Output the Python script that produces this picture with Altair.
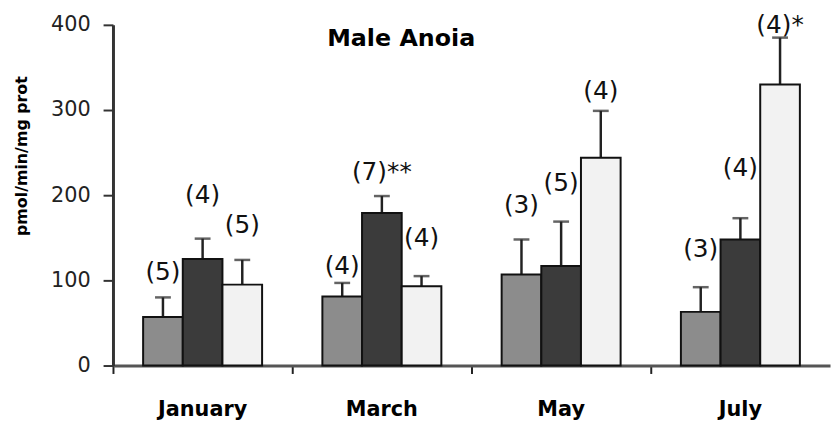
import altair as alt
import pandas as pd

months = ["January", "March", "May", "July"]
series = ["gray", "dark", "light"]

gray_mean = [57, 81, 107, 63]
dark_mean = [125, 179, 117, 148]
light_mean = [95, 93, 244, 330]

gray_se = [23, 16, 41, 29]
dark_se = [24, 20, 52, 25]
light_se = [29, 12, 55, 55]

gray_n = ["(5)", "(4)", "(3)", "(3)"]
dark_n = ["(4)", "(7)**", "(5)", "(4)"]
light_n = ["(5)", "(4)", "(4)", "(4)*"]

title_text = ["Male Anoia"]

# label gaps above error-bar tops (pixels) - styling
gray_gap = [26, 17, 35, 38]
dark_gap = [44, 24, 39, 51]
light_gap = [35, 38, 20, 13]

PLOT_H = 344
YMAX = 400
px2val = YMAX / PLOT_H

rows = []
for s, means, ses, ns, gaps in [
    ("gray", gray_mean, gray_se, gray_n, gray_gap),
    ("dark", dark_mean, dark_se, dark_n, dark_gap),
    ("light", light_mean, light_se, light_n, light_gap),
]:
    for m, v, e, n, g in zip(months, means, ses, ns, gaps):
        top = v + e
        rows.append({"month": m, "series": s, "mean": v, "top": top,
                     "n": n, "label_y": top + g * px2val})
df = pd.DataFrame(rows)
title_df = pd.DataFrame({"t": title_text})

FONT = "DejaVu Sans"

x = alt.X("month:N", sort=months,
          scale=alt.Scale(paddingInner=0, paddingOuter=0),
          axis=alt.Axis(title=None, labelAngle=0, bandPosition=0,
                        labelFont=FONT, labelFontWeight="bold", labelFontSize=21,
                        labelColor="#000", labelPadding=25, tickSize=8,
                        tickColor="#222", tickWidth=2,
                        domainColor="#555", domainWidth=3))
xo = alt.XOffset("series:N", sort=series,
                 scale=alt.Scale(paddingInner=0, paddingOuter=0.76))

color = alt.Color("series:N", sort=series,
                  scale=alt.Scale(domain=series, range=["#8c8c8c", "#3b3b3b", "#f2f2f2"]),
                  legend=None)

y = alt.Y("mean:Q", scale=alt.Scale(domain=[0, YMAX], nice=False),
          axis=alt.Axis(values=[0, 100, 200, 300, 400], grid=False,
                        title="pmol/min/mg prot", titleFont=FONT, titleFontWeight="bold",
                        titleFontSize=16, titleColor="#000",
                        titleX=-92, titleY=132, titleAngle=270,
                        titleAlign="center", titleBaseline="middle",
                        labelFont=FONT, labelFontSize=21, labelColor="#222",
                        labelPadding=13, tickSize=10, tickColor="#333", tickWidth=2,
                        domainColor="#333", domainWidth=3))

base = alt.Chart(df)

bars = base.mark_bar(stroke="#111", strokeWidth=2).encode(x=x, xOffset=xo, y=y, color=color)

err = base.mark_rule(color="#222", strokeWidth=2.5).encode(
    x=x, xOffset=xo, y=alt.Y("mean:Q"), y2="top:Q")

cap = base.mark_tick(color="#222", thickness=2.5, size=16).encode(
    x=x, xOffset=xo, y=alt.Y("top:Q"))

labels = base.mark_text(font=FONT, fontSize=25, color="#111", baseline="middle").encode(
    x=x, xOffset=xo, y=alt.Y("label_y:Q"), text="n:N")

title = alt.Chart(title_df).mark_text(
    font=FONT, fontWeight="bold", fontSize=24, color="#000",
    align="center", baseline="middle").encode(
    x=alt.value(291), y=alt.value(14), text="t:N")

chart = alt.layer(err, bars, cap, labels, title).properties(
    width=724, height=PLOT_H,
    autosize=alt.AutoSizeParams(type="none"),
    padding={"left": 106, "top": 15, "right": 2, "bottom": 56},
    background="white",
).configure_view(stroke=None)

chart.save("out.html", embed_options={"renderer": "svg", "actions": False})
